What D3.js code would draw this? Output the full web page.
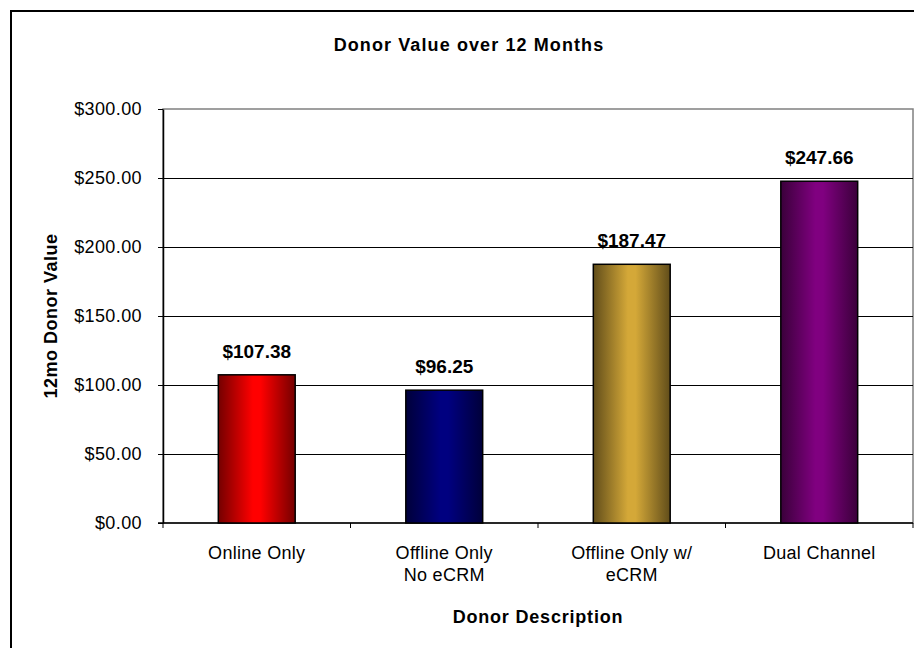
<!DOCTYPE html>
<html>
<head>
<meta charset="utf-8">
<script src="https://cdn.jsdelivr.net/npm/d3@7"></script>
<style>
  body { margin: 0; background: #fff; }
  svg { display: block; font-family: Arial, "Liberation Sans", sans-serif; }
</style>
</head>
<body>
<div id="chart"></div>
<script>
var categories = [["Online Only"], ["Offline Only", "No eCRM"], ["Offline Only w/", "eCRM"], ["Dual Channel"]];
var values = [107.38, 96.25, 187.47, 247.66];
var barColors = ["#ff0000", "#000080", "#d4a838", "#800080"];
var yTicks = [0, 50, 100, 150, 200, 250, 300];

var W = 914, H = 648;
var margin = {top: 109, right: 1, bottom: 125, left: 163};
var width = W - margin.left - margin.right,
    height = H - margin.top - margin.bottom;

var svg = d3.select("#chart").append("svg")
    .attr("width", W)
    .attr("height", H);

// chart frame
svg.append("rect")
    .attr("x", 11).attr("y", 11)
    .attr("width", W + 20).attr("height", H + 20)
    .attr("fill", "none")
    .attr("stroke", "#000")
    .attr("stroke-width", 2);

var defs = svg.append("defs");
barColors.forEach(function(c, i) {
    var dark = d3.color(c).darker(2.2);
    var grad = defs.append("linearGradient")
        .attr("id", "grad" + i)
        .attr("x1", "0%").attr("x2", "100%")
        .attr("y1", "0%").attr("y2", "0%");
    grad.append("stop").attr("offset", "0%").attr("stop-color", dark);
    grad.append("stop").attr("offset", "45%").attr("stop-color", c);
    grad.append("stop").attr("offset", "55%").attr("stop-color", c);
    grad.append("stop").attr("offset", "100%").attr("stop-color", dark);
});

var g = svg.append("g").attr("transform", "translate(" + margin.left + "," + margin.top + ")");

var x = d3.scaleBand()
    .domain(d3.range(categories.length))
    .range([0, width])
    .paddingInner(0.59)
    .paddingOuter(0.295);

var xBand = d3.scaleBand()
    .domain(d3.range(categories.length))
    .range([0, width]);

var y = d3.scaleLinear()
    .domain([0, 300])
    .range([height, 0]);

// plot area border
g.append("rect")
    .attr("x", 0).attr("y", 0)
    .attr("width", width).attr("height", height)
    .attr("fill", "none")
    .attr("stroke", "#808080")
    .attr("stroke-width", 1.5);

// gridlines
g.append("g")
    .selectAll("line")
    .data(yTicks.slice(1, -1))
    .enter().append("line")
    .attr("x1", 0).attr("x2", width)
    .attr("y1", d => Math.round(y(d)) + 0.5)
    .attr("y2", d => Math.round(y(d)) + 0.5)
    .attr("stroke", "#000")
    .attr("stroke-width", 1);

// y axis
var yAxis = d3.axisLeft(y)
    .tickValues(yTicks)
    .tickSizeInner(5)
    .tickSizeOuter(0)
    .tickPadding(16)
    .tickFormat(d => "$" + d3.format(".2f")(d));

var yG = g.append("g").call(yAxis);
yG.select(".domain").attr("stroke", "#000").attr("stroke-width", 1.5);
yG.selectAll(".tick line").attr("stroke", "#000");
yG.selectAll(".tick text")
    .attr("font-size", 18)
    .attr("letter-spacing", 0.4)
    .attr("fill", "#000")
    .attr("font-family", "Arial, 'Liberation Sans', sans-serif");

// x axis
var xG = g.append("g").attr("transform", "translate(0," + height + ")");
xG.append("line")
    .attr("x1", -5).attr("x2", width)
    .attr("y1", 0).attr("y2", 0)
    .attr("stroke", "#000").attr("stroke-width", 1.5);
xG.selectAll(".xtick")
    .data(d3.range(categories.length + 1))
    .enter().append("line")
    .attr("x1", d => d === categories.length ? width : xBand(d))
    .attr("x2", d => d === categories.length ? width : xBand(d))
    .attr("y1", 0).attr("y2", 5)
    .attr("stroke", "#000");

xG.selectAll(".xlabel")
    .data(categories)
    .enter().append("text")
    .attr("text-anchor", "middle")
    .attr("font-size", 18)
    .attr("letter-spacing", 0.3)
    .attr("fill", "#000")
    .attr("transform", (d, i) => "translate(" + (xBand(i) + xBand.bandwidth() / 2) + ",0)")
    .each(function(d) {
        var t = d3.select(this);
        d.forEach(function(line, j) {
            t.append("tspan")
                .attr("x", 0)
                .attr("y", 36 + j * 22)
                .text(line);
        });
    });

// bars
g.selectAll(".bar")
    .data(values)
    .enter().append("rect")
    .attr("class", "bar")
    .attr("x", (d, i) => x(i))
    .attr("y", d => y(d))
    .attr("width", x.bandwidth())
    .attr("height", d => height - y(d))
    .attr("fill", (d, i) => "url(#grad" + i + ")")
    .attr("stroke", "#000")
    .attr("stroke-width", 1.5);

// value labels
g.selectAll(".val")
    .data(values)
    .enter().append("text")
    .attr("x", (d, i) => x(i) + x.bandwidth() / 2)
    .attr("y", d => y(d) - 17)
    .attr("text-anchor", "middle")
    .attr("font-size", 19)
    .attr("font-weight", "bold")
    .attr("fill", "#000")
    .text(d => "$" + d3.format(".2f")(d));

// title
svg.append("text")
    .attr("x", 469).attr("y", 51)
    .attr("text-anchor", "middle")
    .attr("font-size", 18)
    .attr("letter-spacing", 1.1)
    .attr("font-weight", "bold")
    .text("Donor Value over 12 Months");

// axis titles
svg.append("text")
    .attr("transform", "translate(57," + (margin.top + height / 2) + ") rotate(-90)")
    .attr("text-anchor", "middle")
    .attr("font-size", 18)
    .attr("letter-spacing", 0.5)
    .attr("font-weight", "bold")
    .text("12mo Donor Value");

svg.append("text")
    .attr("x", margin.left + width / 2).attr("y", 623)
    .attr("text-anchor", "middle")
    .attr("font-size", 18)
    .attr("letter-spacing", 0.8)
    .attr("font-weight", "bold")
    .text("Donor Description");
</script>
</body>
</html>
